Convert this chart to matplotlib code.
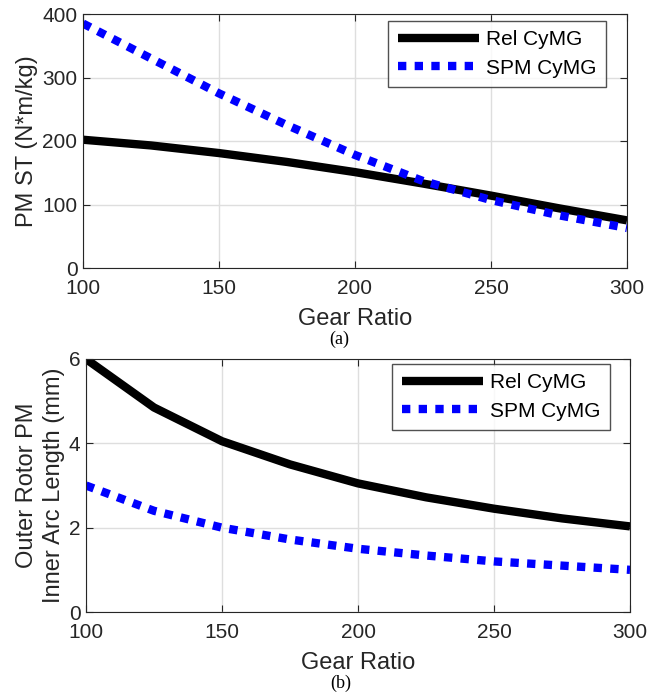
import numpy as np
import matplotlib
matplotlib.use("Agg")
import matplotlib.pyplot as plt

plt.rcParams['font.family'] = ['Liberation Sans', 'DejaVu Sans']

gear = [100, 125, 150, 175, 200, 225, 250, 275, 300]
st_rel = [202, 193, 181, 167, 151, 133, 114, 94, 75]
st_spm = [385, 330, 275, 225, 178, 137, 107, 83, 63]
arc_rel = [6.0, 4.85, 4.05, 3.5, 3.05, 2.72, 2.45, 2.22, 2.03]
arc_spm = [3.0, 2.4, 2.0, 1.72, 1.5, 1.34, 1.2, 1.1, 1.0]

W, H = 663, 692
fig = plt.figure(figsize=(W / 100, H / 100), dpi=100)
ax1 = fig.add_axes([83 / W, 1 - 268 / H, 544 / W, 254 / H])
ax2 = fig.add_axes([86 / W, 1 - 612 / H, 544 / W, 253 / H])

dark = '#262626'


def style(ax, ylim, yticks, ylabel, leg_corner):
    ax.set_xlim(100, 300)
    ax.set_ylim(*ylim)
    ax.set_xticks([100, 150, 200, 250, 300])
    ax.set_yticks(yticks)
    ax.grid(True, color='#dedede', linewidth=1)
    ax.set_axisbelow(True)
    ax.tick_params(direction='in', top=True, right=True, labelsize=15,
                   length=5, colors=dark)
    ax.tick_params(axis='x', pad=8)
    ax.tick_params(axis='y', pad=4)
    for s in ax.spines.values():
        s.set_color(dark)
    ax.set_xlabel('Gear Ratio', fontsize=17, color=dark, labelpad=7)
    ax.set_ylabel(ylabel, fontsize=17, color=dark, labelpad=3, linespacing=1.25)
    leg = ax.legend(loc='upper right', fontsize=15, frameon=True, fancybox=False,
                    edgecolor=dark, handlelength=3.9, handletextpad=0.35,
                    borderpad=0.45, labelspacing=0.45, borderaxespad=0,
                    bbox_to_anchor=(leg_corner[0] / W, 1 - leg_corner[1] / H),
                    bbox_transform=fig.transFigure)
    leg.get_frame().set_linewidth(1)


ax1.plot(gear, st_rel, color='black', lw=6, label='Rel CyMG', solid_capstyle='butt')
ax1.plot(gear, st_spm, color='blue', lw=6, dashes=(1, 1), label='SPM CyMG')
style(ax1, (0, 400), [0, 100, 200, 300, 400], 'PM ST (N*m/kg)', (606, 21))

ax2.plot(gear, arc_rel, color='black', lw=6, label='Rel CyMG', solid_capstyle='butt')
ax2.plot(gear, arc_spm, color='blue', lw=6, dashes=(1, 1), label='SPM CyMG')
style(ax2, (0, 6), [0, 2, 4, 6], 'Outer Rotor PM\nInner Arc Length (mm)', (610, 364))

fig.text(339 / W, 1 - 339 / H, '(a)', ha='center', va='center', fontsize=13,
         family=['Liberation Serif', 'DejaVu Serif'])
fig.text(341 / W, 1 - 683 / H, '(b)', ha='center', va='center', fontsize=13,
         family=['Liberation Serif', 'DejaVu Serif'])

fig.savefig('out.png', dpi=100)
